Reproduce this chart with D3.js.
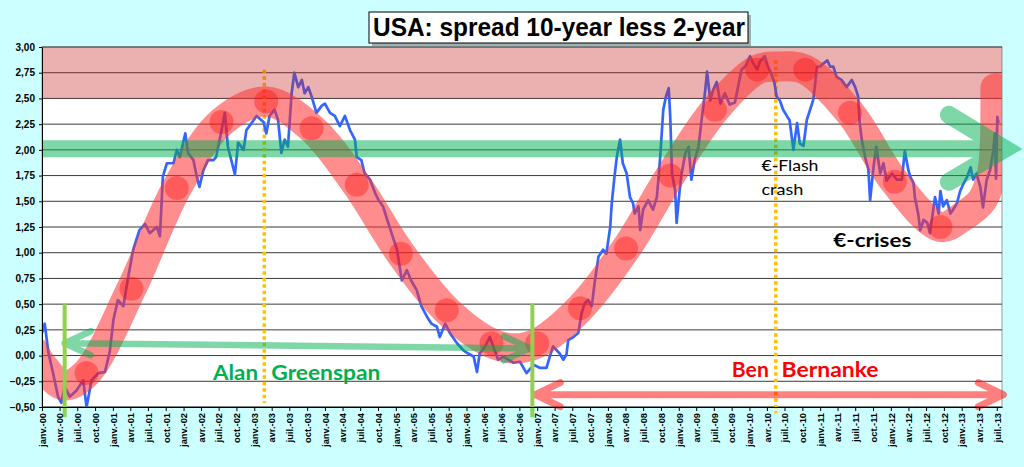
<!DOCTYPE html>
<html>
<head>
<meta charset="utf-8">
<script src="https://cdn.jsdelivr.net/npm/d3@7"></script>
<style>
  body { margin: 0; background: #ccffff; }
  svg { display: block; }
</style>
</head>
<body>
<div id="container"></div>
<script>
/* CONSTANTS AND GLOBALS */
const width = 1024,
  height = 467,
  margin = { top: 47, bottom: 60, left: 42, right: 22 };

const parse = d3.utcParse("%Y-%m-%d");

/* DATA */
// US treasury spread 10y - 2y (date, %)
const spread = [
  ["2000-01-01", 0.22], ["2000-01-15", 0.31], ["2000-02-03", 0.03], ["2000-02-27", -0.17],
  ["2000-03-24", -0.40], ["2000-04-10", -0.46], ["2000-04-27", -0.30], ["2000-05-23", -0.40],
  ["2000-06-27", -0.34], ["2000-08-01", -0.24], ["2000-08-18", -0.50], ["2000-09-13", -0.24],
  ["2000-10-18", -0.17], ["2000-11-21", -0.16], ["2000-12-16", 0.04], ["2001-01-04", 0.35],
  ["2001-01-27", 0.54], ["2001-02-24", 0.48], ["2001-03-18", 0.73], ["2001-04-16", 1.03],
  ["2001-05-18", 1.22], ["2001-06-16", 1.28], ["2001-07-10", 1.19], ["2001-08-16", 1.25],
  ["2001-09-01", 1.16], ["2001-09-16", 1.74], ["2001-10-07", 1.87], ["2001-11-10", 1.87],
  ["2001-11-27", 2.00], ["2001-12-13", 1.93], ["2002-01-10", 2.16], ["2002-01-24", 1.97],
  ["2002-02-21", 1.90], ["2002-03-10", 1.74], ["2002-03-24", 1.64], ["2002-04-13", 1.80],
  ["2002-05-07", 1.90], ["2002-06-04", 1.90], ["2002-06-18", 1.93], ["2002-07-16", 2.19],
  ["2002-08-02", 2.36], ["2002-08-18", 2.03], ["2002-09-23", 1.76], ["2002-10-10", 2.07],
  ["2002-11-07", 2.00], ["2002-11-21", 2.19], ["2002-12-18", 2.26], ["2003-01-13", 2.33],
  ["2003-02-18", 2.27], ["2003-03-04", 2.16], ["2003-03-21", 2.33], ["2003-04-16", 2.39],
  ["2003-05-04", 2.29], ["2003-05-21", 1.97], ["2003-06-07", 2.10], ["2003-06-24", 2.03],
  ["2003-07-13", 2.55], ["2003-07-27", 2.75], ["2003-08-16", 2.61], ["2003-09-04", 2.68],
  ["2003-09-18", 2.55], ["2003-10-07", 2.61], ["2003-10-24", 2.52], ["2003-11-18", 2.36],
  ["2003-12-16", 2.43], ["2004-01-01", 2.45], ["2004-01-27", 2.36], ["2004-02-21", 2.33],
  ["2004-03-18", 2.23], ["2004-04-13", 2.33], ["2004-05-10", 2.19], ["2004-06-04", 2.10],
  ["2004-06-13", 1.93], ["2004-07-07", 1.90], ["2004-07-24", 1.77], ["2004-08-21", 1.71],
  ["2004-09-16", 1.58], ["2004-10-04", 1.51], ["2004-10-27", 1.45], ["2004-11-16", 1.33],
  ["2004-12-10", 1.19], ["2005-01-07", 1.03], ["2005-02-01", 0.73], ["2005-02-27", 0.83],
  ["2005-03-21", 0.73], ["2005-04-18", 0.64], ["2005-05-13", 0.48], ["2005-06-10", 0.38],
  ["2005-07-04", 0.31], ["2005-08-01", 0.28], ["2005-08-16", 0.18], ["2005-09-13", 0.31],
  ["2005-10-07", 0.22], ["2005-11-13", 0.12], ["2005-12-16", 0.05], ["2006-01-10", 0.02],
  ["2006-02-07", -0.01], ["2006-02-24", -0.16], ["2006-03-10", 0.02], ["2006-04-07", 0.09],
  ["2006-05-01", 0.18], ["2006-05-27", 0.05], ["2006-06-13", -0.04], ["2006-07-10", -0.01],
  ["2006-08-04", -0.04], ["2006-09-01", -0.07], ["2006-10-04", -0.06], ["2006-11-07", -0.17],
  ["2006-12-13", -0.09], ["2007-01-16", -0.12], ["2007-02-18", -0.12], ["2007-03-07", -0.01],
  ["2007-03-24", 0.09], ["2007-04-27", 0.02], ["2007-05-16", -0.04], ["2007-06-01", 0.01],
  ["2007-06-10", 0.15], ["2007-07-07", 0.18], ["2007-08-01", 0.22], ["2007-08-18", 0.41],
  ["2007-09-04", 0.51], ["2007-09-21", 0.54], ["2007-10-10", 0.48], ["2007-10-24", 0.70],
  ["2007-11-13", 0.96], ["2007-12-07", 1.03], ["2007-12-24", 0.99], ["2008-01-13", 1.25],
  ["2008-01-21", 1.48], ["2008-02-04", 1.74], ["2008-02-16", 1.93], ["2008-03-04", 2.10],
  ["2008-03-18", 1.87], ["2008-04-07", 1.77], ["2008-04-24", 1.54], ["2008-05-10", 1.48],
  ["2008-05-18", 1.38], ["2008-06-07", 1.45], ["2008-06-16", 1.22], ["2008-07-01", 1.42],
  ["2008-07-27", 1.51], ["2008-08-21", 1.42], ["2008-09-10", 1.54], ["2008-09-27", 1.93],
  ["2008-10-13", 2.39], ["2008-10-27", 2.52], ["2008-11-10", 2.60], ["2008-11-18", 2.32],
  ["2008-11-27", 1.77], ["2008-12-13", 1.61], ["2008-12-21", 1.29], ["2009-01-04", 1.58],
  ["2009-01-16", 1.77], ["2009-02-04", 1.97], ["2009-02-21", 2.03], ["2009-03-07", 1.71],
  ["2009-03-24", 1.90], ["2009-04-13", 2.03], ["2009-04-27", 2.26], ["2009-05-16", 2.55],
  ["2009-05-27", 2.76], ["2009-06-13", 2.48], ["2009-06-27", 2.58], ["2009-07-16", 2.66],
  ["2009-08-04", 2.45], ["2009-08-27", 2.55], ["2009-09-21", 2.44], ["2009-10-18", 2.46],
  ["2009-11-07", 2.65], ["2009-11-21", 2.78], ["2009-12-10", 2.81], ["2010-01-04", 2.91],
  ["2010-01-21", 2.84], ["2010-02-10", 2.78], ["2010-02-24", 2.86], ["2010-03-21", 2.91],
  ["2010-04-07", 2.81], ["2010-04-24", 2.74], ["2010-05-10", 2.65], ["2010-05-21", 2.52],
  ["2010-06-07", 2.48], ["2010-06-24", 2.39], ["2010-07-13", 2.33], ["2010-07-27", 2.29],
  ["2010-08-16", 2.00], ["2010-09-04", 2.26], ["2010-09-18", 2.06], ["2010-10-07", 2.04],
  ["2010-10-24", 2.29], ["2010-11-10", 2.39], ["2010-11-27", 2.49], ["2010-12-16", 2.81],
  ["2011-01-01", 2.81], ["2011-01-18", 2.84], ["2011-02-07", 2.87], ["2011-02-21", 2.81],
  ["2011-03-10", 2.81], ["2011-03-27", 2.71], ["2011-04-21", 2.68], ["2011-05-18", 2.61],
  ["2011-06-13", 2.68], ["2011-07-01", 2.61], ["2011-07-16", 2.52], ["2011-07-24", 2.26],
  ["2011-08-04", 2.10], ["2011-08-21", 1.93], ["2011-09-07", 1.81], ["2011-09-16", 1.51],
  ["2011-10-04", 1.84], ["2011-10-18", 2.03], ["2011-11-07", 1.77], ["2011-11-24", 1.87],
  ["2011-12-10", 1.70], ["2012-01-07", 1.77], ["2012-02-01", 1.71], ["2012-02-27", 1.71],
  ["2012-03-13", 1.99], ["2012-04-01", 1.80], ["2012-04-10", 1.74], ["2012-04-27", 1.68],
  ["2012-05-04", 1.54], ["2012-05-21", 1.38], ["2012-06-01", 1.22], ["2012-06-18", 1.32],
  ["2012-07-07", 1.29], ["2012-07-21", 1.19], ["2012-08-07", 1.42], ["2012-08-16", 1.54],
  ["2012-09-04", 1.38], ["2012-09-13", 1.60], ["2012-09-27", 1.45], ["2012-10-16", 1.51],
  ["2012-11-04", 1.38], ["2012-11-18", 1.42], ["2012-12-07", 1.48], ["2012-12-24", 1.60],
  ["2013-01-10", 1.67], ["2013-01-27", 1.73], ["2013-02-16", 1.83], ["2013-03-01", 1.71],
  ["2013-03-18", 1.77], ["2013-04-07", 1.64], ["2013-04-21", 1.44], ["2013-05-10", 1.71],
  ["2013-05-27", 1.80], ["2013-06-13", 1.99], ["2013-06-21", 2.16], ["2013-06-27", 1.72],
  ["2013-07-04", 2.32], ["2013-07-10", 2.26]
];

// the hand-drawn red "cycle" band and its dots
const cycleBand = [
  ["1999-11-16", 0.05], ["2000-01-01", -0.09], ["2000-04-21", -0.29], ["2000-08-18", -0.17],
  ["2001-04-07", 0.65], ["2001-11-27", 1.63], ["2002-07-16", 2.27], ["2003-03-04", 2.47],
  ["2003-10-24", 2.21], ["2004-06-13", 1.66], ["2005-01-27", 0.99], ["2005-09-21", 0.44],
  ["2006-05-10", 0.12], ["2006-09-04", 0.07], ["2007-01-01", 0.12], ["2007-08-10", 0.46],
  ["2008-04-04", 1.04], ["2008-11-18", 1.75], ["2009-07-07", 2.39], ["2010-02-10", 2.78],
  ["2010-05-27", 2.81], ["2010-10-16", 2.78], ["2011-06-04", 2.36], ["2012-01-21", 1.69],
  ["2012-09-13", 1.25], ["2012-12-28", 1.34], ["2013-04-16", 1.51], ["2013-06-07", 1.78],
  ["2013-06-21", 2.07], ["2013-06-24", 2.60]
];
const cycleDots = [
  ["2000-08-18", -0.17], ["2001-04-07", 0.65], ["2001-11-27", 1.63], ["2002-07-16", 2.27],
  ["2003-03-04", 2.47], ["2003-10-24", 2.21], ["2004-06-13", 1.66], ["2005-01-27", 0.99],
  ["2005-09-21", 0.44], ["2006-05-10", 0.12], ["2007-01-01", 0.12], ["2007-08-10", 0.46],
  ["2008-04-04", 1.04], ["2008-11-18", 1.75], ["2009-07-07", 2.39], ["2010-02-10", 2.78],
  ["2010-10-16", 2.78], ["2011-06-04", 2.36], ["2012-01-21", 1.69], ["2012-09-13", 1.25]
];

// axis
const yTicks = [-0.5, -0.25, 0, 0.25, 0.5, 0.75, 1, 1.25, 1.5, 1.75, 2, 2.25, 2.5, 2.75, 3];
const monthLabels = ["janv.", "avr.", "juil.", "oct."];
const xDomain = ["2000-01-01", "2013-07-28"];

// annotations
const pinkZone = [2.5, 3.0];
const greenLevel = 2.01;
const greenTip = "2013-08-12";
const chairStarts = ["2000-04-27", "2006-12-07"];
const eventLines = [["2003-02-22", 2.78, -0.46], ["2010-05-17", 2.87, -0.56]];
const greenspanArrow = [["2000-04-27", 0.12], ["2006-11-25", 0.07]];
const bernankeArrow = [["2006-12-22", -0.38], ["2013-08-04", -0.38]];

/* SCALES */
const x = d3.scaleUtc()
  .domain(xDomain.map(parse))
  .range([margin.left, width - margin.right]);

const y = d3.scaleLinear()
  .domain([-0.5, 3])
  .range([height - margin.bottom, margin.top]);

/* SVG */
const svg = d3.select("#container")
  .append("svg")
  .attr("width", width)
  .attr("height", height)
  .style("background", "#ccffff");

svg.append("clipPath")
  .attr("id", "plot-clip")
  .append("rect")
  .attr("x", margin.left)
  .attr("y", margin.top)
  .attr("width", width - margin.left - margin.right)
  .attr("height", height - margin.top - margin.bottom);

// plot area
svg.append("rect")
  .attr("x", margin.left)
  .attr("y", margin.top)
  .attr("width", width - margin.left - margin.right)
  .attr("height", height - margin.top - margin.bottom)
  .attr("fill", "white")
  .attr("stroke", "#9a9a9a");

// gridlines
svg.append("g")
  .selectAll("line")
  .data(yTicks)
  .join("line")
  .attr("x1", margin.left)
  .attr("x2", width - margin.right)
  .attr("y1", d => y(d))
  .attr("y2", d => y(d))
  .attr("stroke", "#3a3a3a")
  .attr("stroke-width", 1);

// orange dotted event lines (under the coloured overlays)
svg.append("g")
  .selectAll("line")
  .data(eventLines)
  .join("line")
  .attr("x1", d => x(parse(d[0])))
  .attr("x2", d => x(parse(d[0])))
  .attr("y1", d => y(d[1]))
  .attr("y2", d => y(d[2]))
  .attr("stroke", "#ffc000")
  .attr("stroke-width", 3.5)
  .attr("stroke-dasharray", "3.5,3");

// blue spread line
const line = d3.line()
  .x(d => x(parse(d[0])))
  .y(d => y(d[1]));

svg.append("path")
  .datum(spread)
  .attr("clip-path", "url(#plot-clip)")
  .attr("d", line)
  .attr("fill", "none")
  .attr("stroke", "#3366ff")
  .attr("stroke-width", 2.7)
  .attr("stroke-linejoin", "round");

// pink zone 2,50 - 3,00
svg.append("rect")
  .attr("x", margin.left)
  .attr("width", width - margin.left - margin.right)
  .attr("y", y(pinkZone[1]))
  .attr("height", y(pinkZone[0]) - y(pinkZone[1]))
  .attr("fill", "#c82828")
  .attr("opacity", 0.36);

// red cycle band + dots
const bandLine = d3.line()
  .x(d => x(parse(d[0])))
  .y(d => y(d[1]))
  .curve(d3.curveCatmullRom.alpha(0.5));

svg.append("path")
  .datum(cycleBand)
  .attr("clip-path", "url(#plot-clip)")
  .attr("d", bandLine)
  .attr("fill", "none")
  .attr("stroke", "#ff3030")
  .attr("stroke-opacity", 0.55)
  .attr("stroke-width", 30)
  .attr("stroke-linecap", "round");

svg.append("g")
  .selectAll("circle")
  .data(cycleDots)
  .join("circle")
  .attr("cx", d => x(parse(d[0])))
  .attr("cy", d => y(d[1]))
  .attr("r", 12)
  .attr("fill", "#ff0000")
  .attr("opacity", 0.35);

// green "2%" arrow across the chart
const gy = y(greenLevel),
  gTip = x(parse(greenTip));
const greenArrow = svg.append("g").attr("opacity", 0.5);
greenArrow.append("line")
  .attr("x1", margin.left)
  .attr("x2", gTip)
  .attr("y1", gy)
  .attr("y2", gy)
  .attr("stroke", "#00b050")
  .attr("stroke-width", 17);
greenArrow.append("path")
  .attr("d", `M${gTip - 56},${gy - 34}L${gTip},${gy}L${gTip - 56},${gy + 33}`)
  .attr("fill", "none")
  .attr("stroke", "#00b050")
  .attr("stroke-width", 18)
  .attr("stroke-linecap", "round")
  .attr("stroke-linejoin", "miter");

// double headed arrows for each Fed chairman
function doubleArrow(ends, color, w, head, half) {
  const [a, b] = ends.map(d => [x(parse(d[0])), y(d[1])]);
  const g = svg.append("g").attr("opacity", 0.5);
  g.append("path")
    .attr("d", `M${a[0]},${a[1]}L${b[0]},${b[1]}` +
      `M${a[0] + head},${a[1] - half}L${a[0]},${a[1]}L${a[0] + head},${a[1] + half}` +
      `M${b[0] - head},${b[1] - half}L${b[0]},${b[1]}L${b[0] - head},${b[1] + half}`)
    .attr("fill", "none")
    .attr("stroke", color)
    .attr("stroke-width", w)
    .attr("stroke-linecap", "round")
    .attr("stroke-linejoin", "round");
}
doubleArrow(greenspanArrow, "#00b050", 6.5, 26, 12);
doubleArrow(bernankeArrow, "#ff0000", 7, 25, 12);

// green vertical lines: start of each term
svg.append("g")
  .selectAll("line")
  .data(chairStarts)
  .join("line")
  .attr("x1", d => x(parse(d)))
  .attr("x2", d => x(parse(d)))
  .attr("y1", y(0.5))
  .attr("y2", y(-0.6))
  .attr("stroke", "#92d050")
  .attr("stroke-width", 4);

/* AXES */
const yAxis = svg.append("g")
  .attr("transform", `translate(${margin.left},0)`)
  .call(d3.axisLeft(y)
    .tickValues(yTicks)
    .tickSize(3)
    .tickSizeOuter(0)
    .tickFormat(d => d3.format(".2f")(d).replace(".", ",")));
yAxis.select(".domain").attr("stroke", "#000");
yAxis.selectAll("text")
  .attr("font-family", "Liberation Sans, Arial, sans-serif")
  .attr("font-weight", "bold")
  .attr("font-size", 10)
  .attr("fill", "#000")
  .attr("x", -7);

const xTicks = d3.utcMonth.every(3).range(parse(xDomain[0]), parse(xDomain[1]));
const xAxis = svg.append("g")
  .attr("transform", `translate(0,${height - margin.bottom})`)
  .call(d3.axisBottom(x)
    .tickValues(xTicks)
    .tickSize(4)
    .tickSizeOuter(0)
    .tickFormat(d => monthLabels[d.getUTCMonth() / 3] + "-" + d3.utcFormat("%y")(d)));
xAxis.select(".domain").attr("stroke", "#000");
xAxis.selectAll("text")
  .attr("transform", "rotate(-90)")
  .attr("x", -6)
  .attr("y", 0)
  .attr("dy", "0.35em")
  .style("text-anchor", "end")
  .attr("font-family", "Liberation Sans, Arial, sans-serif")
  .attr("font-weight", "bold")
  .attr("font-size", 9.3)
  .attr("fill", "#000");

/* TEXT ANNOTATIONS */
function note(txt, date, v, size, weight, color, len) {
  svg.append("text")
    .attr("x", x(parse(date)))
    .attr("y", y(v))
    .attr("font-family", "Lato, Noto Sans, sans-serif")
    .attr("font-size", size)
    .attr("font-weight", weight)
    .attr("fill", color)
    .attr("textLength", len)
    .attr("lengthAdjust", "spacingAndGlyphs")
    .text(txt);
}
note("Alan", "2002-06-02", -0.24, 21, "bold", "#00b050", 45);
note("Greenspan", "2003-03-30", -0.24, 21, "bold", "#00b050", 109);
note("Ben", "2009-10-02", -0.21, 20, "bold", "#ff0000", 37);
note("Bernanke", "2010-06-16", -0.21, 20, "bold", "#ff0000", 97);
note("€-Flash", "2010-03-04", 1.79, 16, "normal", "#000", 57);
note("crash", "2010-03-04", 1.56, 16, "normal", "#000", 42);
note("€-crises", "2011-03-10", 1.06, 19, "bold", "#000", 78);

/* TITLE */
svg.append("rect")
  .attr("x", 372).attr("y", 15)
  .attr("width", 379).attr("height", 31)
  .attr("fill", "#7f7f7f")
  .attr("opacity", 0.6);
svg.append("rect")
  .attr("x", 369).attr("y", 12)
  .attr("width", 379).attr("height", 31)
  .attr("fill", "white")
  .attr("stroke", "#000");
svg.append("text")
  .attr("x", 373)
  .attr("y", 36)
  .attr("font-family", "Liberation Sans, Arial, sans-serif")
  .attr("font-weight", "bold")
  .attr("font-size", 26)
  .attr("textLength", 372)
  .attr("lengthAdjust", "spacingAndGlyphs")
  .text("USA: spread 10-year less 2-year");
</script>
</body>
</html>
